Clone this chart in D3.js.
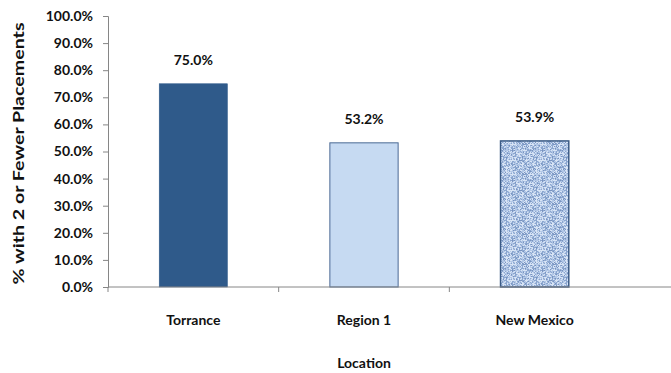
<!DOCTYPE html>
<html>
<head>
<meta charset="utf-8">
<script src="https://cdn.jsdelivr.net/npm/d3@7"></script>
<style>
  body { margin: 0; background: #fff; }
  svg { display: block; font-family: Lato, "Open Sans", sans-serif; }
</style>
</head>
<body>
<svg id="chart" width="671" height="373"></svg>
<script>
const categories = ["Torrance", "Region 1", "New Mexico"];
const values = [75.0, 53.2, 53.9];
const yTicks = [0, 10, 20, 30, 40, 50, 60, 70, 80, 90, 100];
const yTitle = "% with 2 or Fewer Placements";
const xTitle = "Location";

const svg = d3.select("#chart");
const plotLeft = 108, plotRight = 620, plotTop = 16, plotBottom = 287;

// woven texture for the New Mexico bar
const defs = svg.append("defs");
const pat = defs.append("pattern")
    .attr("id", "tex")
    .attr("patternUnits", "userSpaceOnUse")
    .attr("width", 30).attr("height", 30);
pat.append("rect").attr("width", 30).attr("height", 30).attr("fill", "#b2c7e6");
for (let i = 0; i < 30; i++) {
    for (let j = 0; j < 30; j++) {
        const h = ((i * 73 + j * 151 + i * j * 29 + (i % 3) * 41) % 101) / 101;
        let c = null;
        if (h < 0.25) c = "#8ba6cf";
        else if (h < 0.33) c = "#7893c0";
        else if (h > 0.72) c = "#d8e4f5";
        if (c) pat.append("rect").attr("x", i).attr("y", j)
            .attr("width", 1).attr("height", 1).attr("fill", c);
    }
}

const x = d3.scaleBand()
    .domain(categories)
    .range([plotLeft, plotRight])
    .paddingInner(0.6)
    .paddingOuter(0.3);

const y = d3.scaleLinear()
    .domain([0, 100])
    .range([plotBottom, plotTop]);

const fills = ["#2f5a8a", "#c6daf2", "url(#tex)"];
const strokes = ["#2f5a8a", "#4a6a94", "#3b5b86"];
const strokeW = [0.5, 1, 1.5];

svg.selectAll(".bar")
    .data(values)
    .join("rect")
    .attr("class", "bar")
    .attr("x", (d, i) => x(categories[i]))
    .attr("y", d => y(d))
    .attr("width", x.bandwidth())
    .attr("height", d => plotBottom - y(d))
    .attr("fill", (d, i) => fills[i])
    .attr("stroke", (d, i) => strokes[i])
    .attr("stroke-width", (d, i) => strokeW[i]);

svg.selectAll(".val")
    .data(values)
    .join("text")
    .attr("class", "val")
    .attr("x", (d, i) => x(categories[i]) + x.bandwidth() / 2)
    .attr("y", d => y(d) - 19)
    .attr("text-anchor", "middle")
    .style("font-size", "14px")
    .style("font-weight", "bold")
    .attr("fill", "#111")
    .text(d => d.toFixed(1) + "%");

// y axis
const yAxis = svg.append("g")
    .attr("transform", "translate(" + plotLeft + ",0)")
    .call(d3.axisLeft(y).tickValues(yTicks).tickSize(5).tickFormat(d => d.toFixed(1) + "%"));
yAxis.select(".domain").attr("stroke", "#868686");
yAxis.selectAll(".tick line").attr("stroke", "#868686");
yAxis.selectAll(".tick text")
    .attr("x", -15)
    .style("font-size", "14px")
    .style("font-weight", "bold")
    .style("font-family", "Lato, sans-serif")
    .attr("fill", "#111");

// x axis
svg.append("line")
    .attr("x1", plotLeft).attr("x2", 671)
    .attr("y1", plotBottom).attr("y2", plotBottom)
    .attr("stroke", "#868686");
const bounds = [0, 1, 2].map(i => plotLeft + i * (plotRight - plotLeft) / 3);
svg.selectAll(".xtick")
    .data(bounds)
    .join("line")
    .attr("class", "xtick")
    .attr("x1", d => d).attr("x2", d => d)
    .attr("y1", plotBottom).attr("y2", plotBottom + 5)
    .attr("stroke", "#868686");

svg.selectAll(".cat")
    .data(categories)
    .join("text")
    .attr("class", "cat")
    .attr("x", d => x(d) + x.bandwidth() / 2)
    .attr("y", 325)
    .attr("text-anchor", "middle")
    .style("font-size", "14px")
    .style("font-weight", "bold")
    .attr("fill", "#111")
    .text(d => d);

svg.append("text")
    .attr("x", (plotLeft + plotRight) / 2)
    .attr("y", 368)
    .attr("text-anchor", "middle")
    .style("font-size", "14px")
    .style("font-weight", "bold")
    .attr("fill", "#111")
    .text(xTitle);

svg.append("text")
    .attr("transform", "translate(24," + ((plotTop + plotBottom) / 2 + 2) + ") rotate(-90)")
    .attr("text-anchor", "middle")
    .attr("textLength", 262)
    .attr("lengthAdjust", "spacingAndGlyphs")
    .style("font-size", "15px")
    .style("font-weight", "bold")
    .attr("fill", "#111")
    .text(yTitle);
</script>
</body>
</html>
